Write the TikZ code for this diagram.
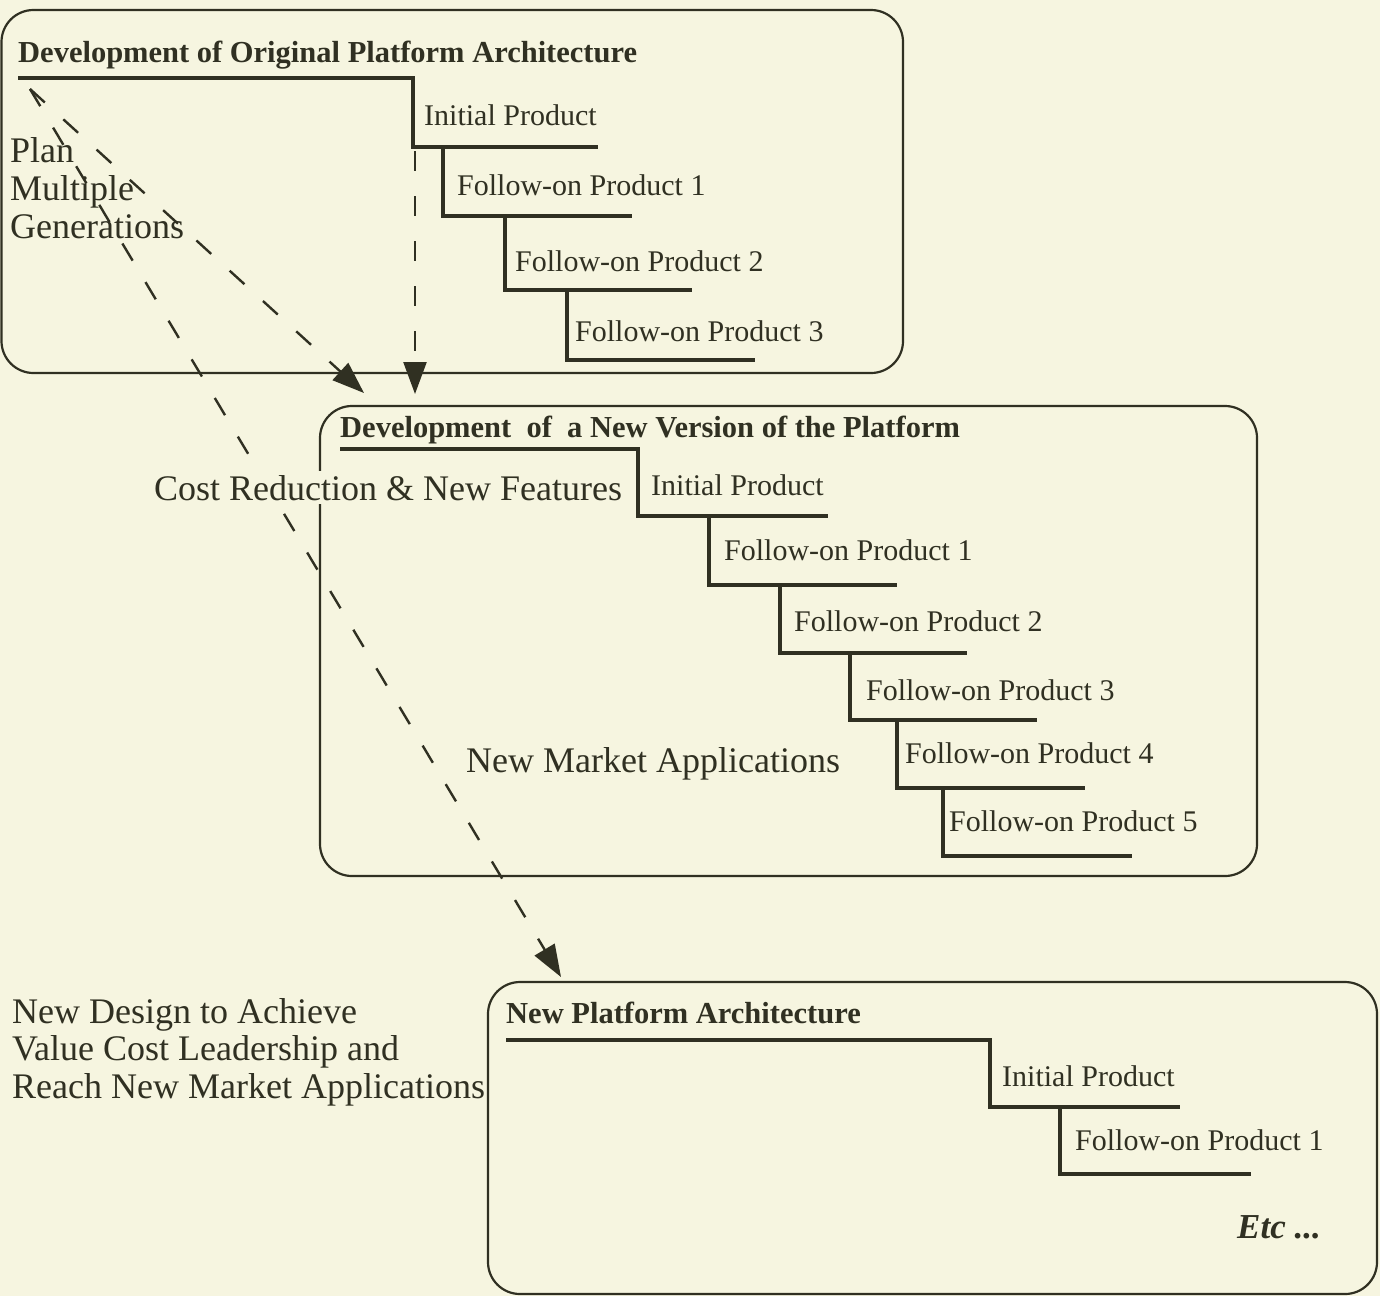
\documentclass[tikz,border=0pt]{standalone}
\usepackage{fontspec}
\setmainfont{Liberation Serif}
\usetikzlibrary{arrows.meta}
\definecolor{bg}{RGB}{246,245,224}
\definecolor{ink}{RGB}{48,48,34}
\begin{document}
\begin{tikzpicture}[x=1pt,y=-1pt,
  boxframe/.style={draw=ink, line width=2.2pt, rounded corners=32pt},
  stair/.style={draw=ink, line width=3.2pt},
  prod/.style={anchor=base west, inner sep=0pt, font=\fontsize{30}{36}\selectfont, text=ink},
  ttl/.style={anchor=base west, inner sep=0pt, font=\fontsize{30.5}{36}\selectfont\bfseries, text=ink},
  note/.style={anchor=base west, inner sep=0pt, font=\fontsize{36}{38}\selectfont, text=ink},
  flow/.style={draw=ink, line width=2.4pt, dash pattern=on 20pt off 25pt, -{Triangle[length=32pt,width=23pt]}},
]
\fill[bg] (0,0) rectangle (1380,1296);
\useasboundingbox (0,0) rectangle (1380,1296);

% boxes
\draw[boxframe] (1.5,10) rectangle (903,373);
\draw[boxframe] (320,406) rectangle (1257,876);
\draw[boxframe] (488,982) rectangle (1377,1294);

% staircases
\draw[stair] (18,78) -- (413,78) -- (413,147) -- (598,147);
\draw[stair] (443,147) |- (632,216);
\draw[stair] (505,216) |- (692,290);
\draw[stair] (567,290) |- (755,360);

\draw[stair] (340,449) -- (638,449) -- (638,516) -- (828,516);
\draw[stair] (709,516) |- (897,585);
\draw[stair] (780,585) |- (967,653);
\draw[stair] (850,653) |- (1037,720);
\draw[stair] (897,720) |- (1085,788);
\draw[stair] (943,788) |- (1132,856);

\draw[stair] (506,1040) -- (990,1040) -- (990,1107) -- (1180,1107);
\draw[stair] (1060,1107) |- (1251,1174);

% connector points
\coordinate (src) at (30,89);
\coordinate (vsrc) at (415,151);
\coordinate (tipA) at (364,393);
\coordinate (tipV) at (415,394);
\coordinate (tipB) at (561,977);

\draw[flow] (src) -- (tipA);
\draw[flow] (vsrc) -- (tipV);
\draw[flow] (src) -- (tipB);

% titles
\node[ttl] (t1) at (18,62) {Development of Original Platform Architecture};
\node[ttl] (t2) at (340,437) {Development\ \ of\ \ a New Version of the Platform};
\node[ttl] (t3) at (506,1023) {New Platform Architecture};

% products box 1
\node[prod] (a0) at (424,125) {Initial Product};
\node[prod] (a1) at (457,195) {Follow-on Product 1};
\node[prod] (a2) at (515,271) {Follow-on Product 2};
\node[prod] (a3) at (575,341) {Follow-on Product 3};

% products box 2
\node[prod] (b0) at (651,495) {Initial Product};
\node[prod] (b1) at (724,560) {Follow-on Product 1};
\node[prod] (b2) at (794,631) {Follow-on Product 2};
\node[prod] (b3) at (866,700) {Follow-on Product 3};
\node[prod] (b4) at (905,763) {Follow-on Product 4};
\node[prod] (b5) at (949,831) {Follow-on Product 5};

% products box 3
\node[prod] (c0) at (1002,1086) {Initial Product};
\node[prod] (c1) at (1075,1150) {Follow-on Product 1};
\node[anchor=base west, inner sep=0pt, font=\fontsize{35}{40}\selectfont\bfseries\itshape, text=ink] (etc) at (1237,1238) {Etc ...};

% notes
\node[note] (p1) at (10,162) {Plan};
\node[note] (p2) at (10,200) {Multiple};
\node[note] (p3) at (10,238) {Generations};

\node[note, fill=bg, inner ysep=4pt] (cost) at (154,500) {Cost Reduction \& New Features};
\node[note] (mkt) at (466,772) {New Market Applications};

\node[note] (d1) at (12,1023) {New Design to Achieve};
\node[note] (d2) at (12,1060) {Value Cost Leadership and};
\node[note] (d3) at (12,1098) {Reach New Market Applications};
\end{tikzpicture}
\end{document}
